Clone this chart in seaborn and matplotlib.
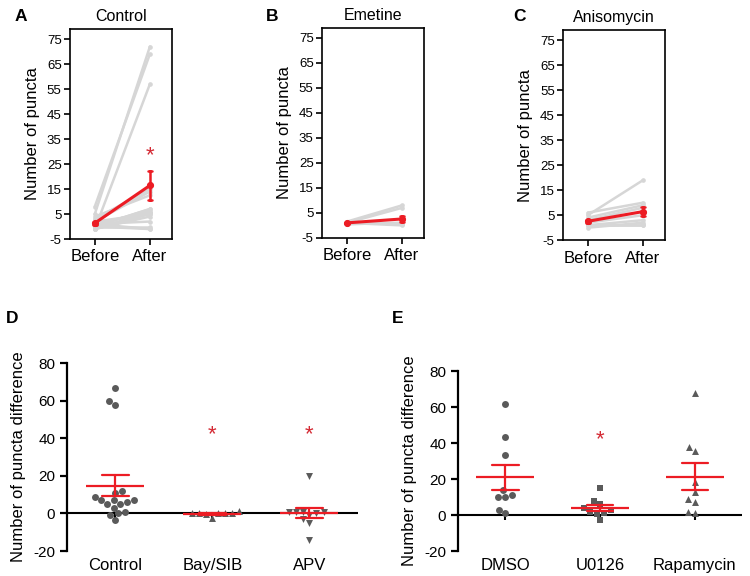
import matplotlib
matplotlib.use("Agg")
import matplotlib.pyplot as plt
import numpy as np
import pandas as pd
import seaborn as sns

# panels A-C: puncta per cell before / after
times = ["Before", "After"]
control_before = [5, 8, -1, 3, 2, 4, 0, -1, -1, 1, 0, -1, 2, 0, 1, 0, 1]
control_after = [72, 69, 57, 15, 14, 12.5, 7, 5, 4, 6, 7, 6, 5, 0, 2, -1, -1]
emetine_before = [1.5, 1, 0.5, 1.5, 1, 0.5, 1]
emetine_after = [8, 7, 1, 0.5, 0, 1, 0.5]
aniso_before = [5, 6, 4, 3, 2, 1, 0, 1, 1]
aniso_after = [19, 10, 9, 8, 5, 3, 2, 1, 1]

# panel D: difference after - before
groups_d = ["Control", "Bay/SIB", "APV"]
diff_control = [67, 60, 58, 12, 11, 8.5, 7, 6, 5, 5, 7, 7, 3, 0, 1, -1, -3.5]
diff_baysib = [1.5, 0, -0.5, 0, -2.5, 0, 0, 0]
diff_apv = [20, 1, 1, 1, 1, 0, -1, -3, -5, -14]
markers_d = ["o", "^", "v"]

# panel E
groups_e = ["DMSO", "U0126", "Rapamycin"]
diff_dmso = [61.7, 43.5, 33.3, 13.9, 10.2, 10.2, 11.1, 1.3, 2.8]
diff_u0126 = [15, 8, 6, 4, 3, 1.5, 1, 0.5, -3]
diff_rapa = [68, 38, 35.7, 18.5, 12.6, 8.7, 7.4, 0.9, 1.5]
markers_e = ["o", "s", "^"]

RED = "#ec1c24"
STAR = "#d42a34"
GRAY_LINE = "#d6d6d6"
DOT = "#5a5a5a"

sns.set_style("ticks")
plt.rcParams["font.family"] = ["Liberation Sans", "DejaVu Sans"]
plt.rcParams["axes.linewidth"] = 1.2
plt.rcParams["axes.unicode_minus"] = False
for key in ["text.color", "axes.labelcolor", "xtick.color", "ytick.color", "axes.edgecolor"]:
    plt.rcParams[key] = "black"


def paired_df(before, after):
    n = len(before)
    return pd.DataFrame({
        "cell": list(range(n)) * 2,
        "time": ["Before"] * n + ["After"] * n,
        "value": list(before) + list(after),
    })


def paired_panel(ax, before, after, title, star=False):
    df = paired_df(before, after)
    n = len(before)
    sns.pointplot(data=df, x="time", y="value", hue="cell", order=times,
                  palette=[GRAY_LINE] * n, errorbar=None, marker="o", markersize=2,
                  linewidth=1.8, legend=False, ax=ax)
    sns.pointplot(data=df, x="time", y="value", order=times, errorbar="se",
                  color=RED, marker="o", markersize=3.5, linewidth=2.2,
                  capsize=0.08, err_kws={"linewidth": 1.8}, ax=ax)
    ax.set_xlim(-0.45, 1.4)
    ax.set_ylim(-5, 79)
    ax.set_yticks(np.arange(-5, 80, 10))
    ax.set_xlabel("")
    ax.set_ylabel("Number of puncta", fontsize=12, labelpad=5)
    ax.set_title(title, fontsize=11.5, pad=6)
    ax.tick_params(axis="y", labelsize=9.5, length=4, width=1.2, pad=2)
    ax.tick_params(axis="x", labelsize=12, length=4, width=1.2)
    if star:
        mean_after = np.mean(after)
        ax.text(1, mean_after + 12, "*", color=STAR, ha="center", va="center", fontsize=16)


def scatter_panel(ax, groups, values, markers, stars):
    df = pd.DataFrame({
        "group": np.repeat(groups, [len(v) for v in values]),
        "value": np.concatenate(values),
    })
    for g, m in zip(groups, markers):
        sns.swarmplot(data=df[df["group"] == g], x="group", y="value", order=groups,
                      marker=m, color=DOT, size=5, ax=ax, zorder=3)
    ax.axhline(0, color="black", lw=1.5, zorder=2)
    ax.vlines(range(len(groups)), -2.5, 0, color="black", lw=1.5, zorder=2)
    sns.pointplot(data=df, x="group", y="value", order=groups, errorbar="se",
                  color=RED, linestyle="none", marker="_", markersize=42,
                  markeredgewidth=1.6, capsize=0.28, err_kws={"linewidth": 1.6},
                  ax=ax, zorder=5)
    for g in stars:
        ax.text(groups.index(g), 42, "*", color=STAR, ha="center", va="center", fontsize=16)
    ax.set_xlim(-0.5, 2.5)
    ax.set_ylim(-20, 80)
    ax.set_yticks([-20, 0, 20, 40, 60, 80])
    sns.despine(ax=ax, bottom=True)
    ax.spines["left"].set_linewidth(1.6)
    ax.set_xlabel("")
    ax.set_ylabel("Number of puncta difference", fontsize=12, labelpad=5)
    ax.tick_params(axis="y", labelsize=11, length=5, width=1.6)
    ax.tick_params(axis="x", labelsize=12, length=0, pad=5)


fig = plt.figure(figsize=(7.5, 5.76), dpi=100)
ax_a = fig.add_axes([0.0933, 0.585, 0.136, 0.3646])
ax_b = fig.add_axes([0.4293, 0.587, 0.136, 0.3646])
ax_c = fig.add_axes([0.7507, 0.583, 0.136, 0.3646])
ax_d = fig.add_axes([0.0893, 0.0434, 0.388, 0.326])
ax_e = fig.add_axes([0.6107, 0.0434, 0.379, 0.3125])

paired_panel(ax_a, control_before, control_after, "Control", star=True)
paired_panel(ax_b, emetine_before, emetine_after, "Emetine")
paired_panel(ax_c, aniso_before, aniso_after, "Anisomycin")

scatter_panel(ax_d, groups_d, [diff_control, diff_baysib, diff_apv], markers_d, ["Bay/SIB", "APV"])
scatter_panel(ax_e, groups_e, [diff_dmso, diff_u0126, diff_rapa], markers_e, ["U0126"])

for label, x, y in [("A", 0.02, 0.985), ("B", 0.355, 0.985), ("C", 0.685, 0.985),
                    ("D", 0.008, 0.46), ("E", 0.522, 0.46)]:
    fig.text(x, y, label, fontsize=12.5, fontweight="bold", va="top", ha="left")

fig.savefig("out.png", dpi=100)
plt.close(fig)
